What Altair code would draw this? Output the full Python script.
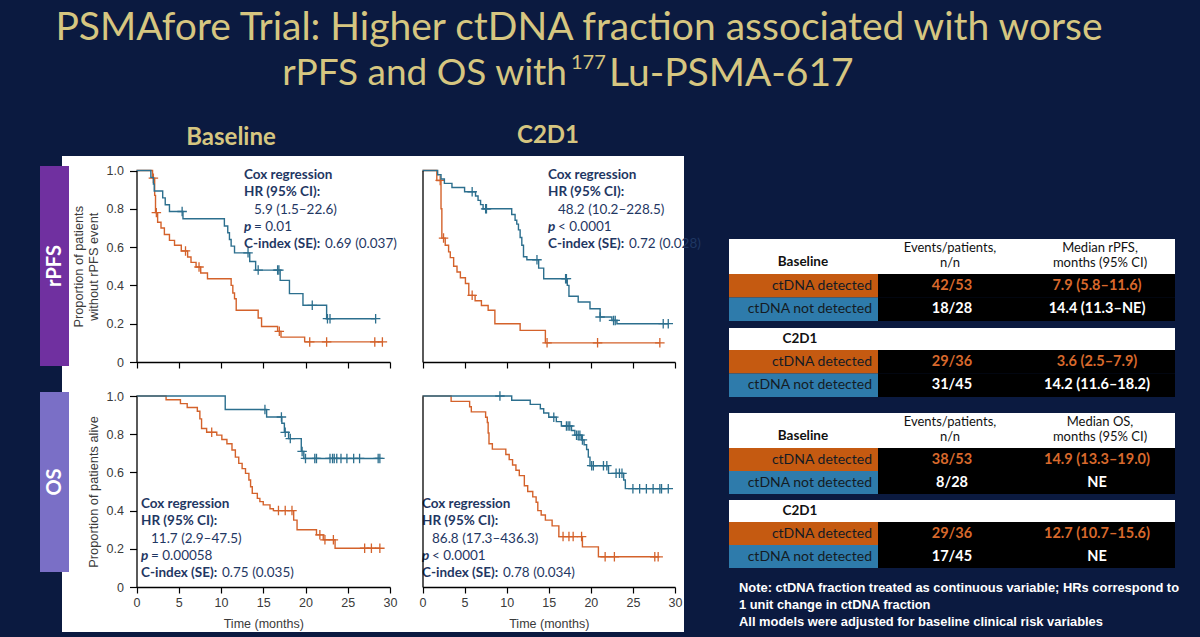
import altair as alt
import pandas as pd

W, H = 1200, 637
BG = "#0b1a40"
GOLD = "#d6c680"
ORANGE = "#d4622b"
BLUE = "#2c6f8e"
NAVY = "#1f3763"
CELL_ORANGE = "#c55a11"
CELL_BLUE = "#2e7bab"
RPFS_PURPLE = "#7030a0"
OS_PURPLE = "#7a6fc6"
AX_TXT = "#3a3a3a"
CAL = "Lato"
ARIAL = "Liberation Sans"

# ----------------------------- data -----------------------------
month_ticks = [0, 5, 10, 15, 20, 25, 30]
prop_ticks = [0, 0.2, 0.4, 0.6, 0.8, 1.0]

# Baseline rPFS
bl_rpfs_det_time = [1.9, 2.15, 2.25, 2.5, 2.9, 3.3, 3.9, 4.5, 5.3, 6.05, 6.45, 7.05, 7.6, 8.4,
                    11.2, 11.4, 11.6, 11.8, 14.4, 14.8, 16.7, 17.1, 19.9]
bl_rpfs_det_surv = [0.96, 0.87, 0.78, 0.73, 0.70, 0.666, 0.635, 0.61, 0.58, 0.548, 0.52, 0.496, 0.465, 0.435,
                    0.40, 0.36, 0.33, 0.27, 0.23, 0.185, 0.16, 0.13, 0.105]
bl_rpfs_det_cens = [2.0, 2.35, 5.8, 7.4, 16.9, 20.5, 22.5, 28.2, 29.1]

bl_rpfs_nd_time = [1.7, 2.0, 2.1, 3.1, 3.4, 3.9, 5.5, 10.4, 10.8, 11.0, 11.2, 11.6, 13.4, 14.1,
                   17.0, 18.1, 19.7, 22.5]
bl_rpfs_nd_surv = [0.964, 0.929, 0.893, 0.857, 0.821, 0.786, 0.748, 0.71, 0.675, 0.64, 0.605, 0.57, 0.525, 0.48,
                   0.426, 0.357, 0.296, 0.226]
bl_rpfs_nd_cens = [5.4, 13.2, 14.4, 16.7, 16.85, 20.8, 22.6, 22.9, 28.3]

# C2D1 rPFS
c2_rpfs_det_time = [1.7, 2.2, 2.3, 2.7, 3.1, 3.3, 3.7, 4.1, 4.5, 5.1, 5.5, 6.25, 7.0, 7.8, 8.6, 11.6, 14.6]
c2_rpfs_det_surv = [0.948, 0.80, 0.647, 0.61, 0.575, 0.545, 0.50, 0.47, 0.44, 0.41, 0.348, 0.32, 0.295, 0.27,
                    0.20, 0.165, 0.10]
c2_rpfs_det_cens = [2.1, 2.5, 5.9, 14.8, 20.8, 28.2]

c2_rpfs_nd_time = [1.8, 2.2, 2.6, 3.5, 5.0, 6.3, 6.6, 6.9, 7.2, 10.6, 11.0, 11.2, 11.4, 11.6, 11.8, 12.0, 12.4,
                   13.8, 14.4, 17.2, 17.4, 18.5, 19.9, 21.1, 22.5, 23.1]
c2_rpfs_nd_surv = [0.978, 0.956, 0.933, 0.911, 0.889, 0.867, 0.844, 0.822, 0.80, 0.77, 0.74, 0.72, 0.69, 0.65,
                   0.61, 0.55, 0.534, 0.49, 0.435, 0.40, 0.343, 0.313, 0.278, 0.235, 0.217, 0.20]
c2_rpfs_nd_cens = [5.9, 7.5, 7.6, 13.6, 17.0, 17.1, 21.1, 22.7, 22.9, 28.6, 29.2]

# Baseline OS
bl_os_det_time = [3.5, 5.2, 6.0, 7.2, 7.5, 7.7, 8.3, 9.5, 10.1, 10.7, 11.3, 11.7, 12.1, 12.5, 12.9, 13.3, 13.5,
                  13.7, 14.3, 14.6, 15.0, 15.8, 16.2, 18.6, 19.0, 21.3, 22.1, 23.5]
bl_os_det_surv = [0.98, 0.96, 0.94, 0.92, 0.88, 0.83, 0.81, 0.795, 0.772, 0.75, 0.717, 0.68, 0.647, 0.62, 0.595,
                  0.56, 0.525, 0.49, 0.464, 0.447, 0.43, 0.41, 0.40, 0.35, 0.30, 0.273, 0.247, 0.203]
bl_os_det_cens = [8.9, 16.8, 17.6, 18.4, 21.7, 22.3, 23.3, 27.0, 27.8, 28.8]

bl_os_nd_time = [10.5, 15.4, 17.2, 17.5, 18.0, 19.5, 19.8]
bl_os_nd_surv = [0.929, 0.89, 0.857, 0.81, 0.777, 0.71, 0.673]
bl_os_nd_cens = [15.2, 17.15, 17.6, 18.2, 19.6, 20.0, 21.1, 21.3, 22.9, 23.2, 23.4, 23.7, 24.2, 24.9, 25.7,
                 26.4, 28.6, 28.8]

# C2D1 OS
c2_os_det_time = [3.4, 5.6, 5.8, 7.5, 7.7, 7.8, 7.9, 8.3, 9.9, 10.3, 10.7, 11.1, 11.5, 12.1, 12.5, 13.1, 13.5,
                  13.7, 14.1, 14.6, 15.4, 16.2, 19.0, 20.9]
c2_os_det_surv = [0.972, 0.944, 0.917, 0.889, 0.861, 0.806, 0.75, 0.722, 0.694, 0.667, 0.639, 0.611, 0.583, 0.53,
                  0.50, 0.472, 0.444, 0.40, 0.377, 0.35, 0.32, 0.264, 0.21, 0.158]
c2_os_det_cens = [16.7, 17.4, 17.9, 18.9, 21.7, 22.8, 27.6, 28.0]

c2_os_nd_time = [10.6, 12.8, 14.0, 14.4, 15.0, 15.9, 16.5, 17.7, 18.1, 18.9, 19.2, 19.5, 19.7, 19.9, 22.1, 23.9,
                 24.1]
c2_os_nd_surv = [0.978, 0.956, 0.933, 0.911, 0.889, 0.866, 0.843, 0.819, 0.795, 0.77, 0.745, 0.72, 0.68, 0.635,
                 0.595, 0.56, 0.515]
c2_os_nd_cens = [9.2, 15.6, 17.1, 17.3, 17.5, 18.3, 18.5, 18.7, 19.0, 20.1, 20.3, 21.5, 21.9, 23.0, 23.4, 23.7,
                 25.0, 25.8, 26.6, 27.4, 28.2, 28.4, 29.2]

# Tables
row_labels = ["ctDNA detected", "ctDNA not detected", "ctDNA detected", "ctDNA not detected"]
rpfs_events = ["42/53", "18/28", "29/36", "31/45"]
rpfs_median = ["7.9 (5.8–11.6)", "14.4 (11.3–NE)", "3.6 (2.5–7.9)", "14.2 (11.6–18.2)"]
os_events = ["38/53", "8/28", "29/36", "17/45"]
os_median = ["14.9 (13.3–19.0)", "NE", "12.7 (10.7–15.6)", "NE"]

# ----------------------------- helpers -----------------------------
def cx():
    return alt.X("x:Q", scale=alt.Scale(domain=[0, W], range=[0, W], nice=False, zero=False), axis=None)


def cy():
    return alt.Y("y:Q", scale=alt.Scale(domain=[0, H], range=[0, H], nice=False, zero=False), axis=None)


def text_layer(rows, color, size, weight="normal", font=CAL, align="left", style="normal", angle=0):
    df = pd.DataFrame(rows, columns=["x", "y", "label"])
    kw = dict(align=align, baseline="middle", font=font, fontSize=size, fontWeight=weight,
              color=color, fontStyle=style)
    if angle:
        kw["angle"] = angle
    return alt.Chart(df).mark_text(**kw).encode(x=cx(), y=cy(), text="label:N")


def rect_layer(rows):
    df = pd.DataFrame(rows, columns=["x", "y", "x2", "y2", "fill"])
    return alt.Chart(df).mark_rect().encode(
        x=cx(), y=cy(), x2="x2:Q", y2="y2:Q", color=alt.Color("fill:N", scale=None))


def km_frames(times, surv, cens):
    end = max(cens + times)
    line = pd.DataFrame({"t": [0] + times + [end], "s": [1.0] + surv + [surv[-1]]})

    def level(x):
        v = 1.0
        for ti, si in zip(times, surv):
            if ti <= x:
                v = si
        return v

    cdf = pd.DataFrame({"t": cens, "s": [level(c) for c in cens]})
    return line, cdf


PLUS = "M0,-1L0,1M-1,0L1,0"


def km_panel(x0, x1, yb, yt, curves, xlabels, ylabels, ytitle):
    xs = alt.Scale(domain=[0, 30], range=[x0, x1], nice=False, zero=False)
    ys = alt.Scale(domain=[0, 1], range=[yb, yt], nice=False, zero=False)
    xkw = dict(orient="bottom", offset=yb - H, values=month_ticks, grid=False, domainColor="#000",
               domainWidth=1.3, tickColor="#000", tickWidth=1.2, tickSize=6, labels=xlabels,
               labelFlush=False, labelOverlap=False, labelFont=ARIAL, labelFontSize=12.5,
               labelColor=AX_TXT, labelPadding=3, titleFont=ARIAL, titleFontSize=12.5,
               titleFontWeight="normal", titleColor=AX_TXT, titlePadding=9, zindex=2)
    ykw = dict(orient="left", offset=-x0, values=prop_ticks, grid=False, domainColor="#000",
               domainWidth=1.3, tickColor="#000", tickWidth=1.2, tickSize=7, labelFlush=False,
               labels=ylabels, ticks=ylabels,
               labelOverlap=False, labelFont=ARIAL, labelFontSize=12.5, labelColor=AX_TXT,
               labelPadding=6, labelExpr="datum.value == 0 ? '0' : format(datum.value, '.1f')",
               titleFont=ARIAL, titleFontSize=12.8, titleFontWeight="normal", titleColor=AX_TXT,
               titlePadding=6, titleLineHeight=15, zindex=2)
    layers = []
    for i, (times, surv, cens, color) in enumerate(curves):
        line_df, cens_df = km_frames(times, surv, cens)
        if i == 0:
            xe = alt.X("t:Q", scale=xs, axis=alt.Axis(**xkw),
                       title="Time (months)" if xlabels else None)
            ye = alt.Y("s:Q", scale=ys, axis=alt.Axis(**ykw), title=ytitle)
        else:
            xe = alt.X("t:Q", scale=xs, axis=None)
            ye = alt.Y("s:Q", scale=ys, axis=None)
        layers.append(alt.Chart(line_df).mark_line(interpolate="step-after", color=color,
                                                   strokeWidth=1.4).encode(x=xe, y=ye))
        layers.append(alt.Chart(cens_df).mark_point(shape=PLUS, filled=False, color=color, size=90,
                                                    strokeWidth=1.3, opacity=1).encode(
            x=alt.X("t:Q", scale=xs, axis=None), y=alt.Y("s:Q", scale=ys, axis=None)))
    return layers


def cox_layers(x, y, hr, p, cidx, p_op):
    lh = 17.3
    fs = 13.5
    return [
        text_layer([(x, y, "Cox regression"), (x, y + lh, "HR (95% CI):"),
                    (x, y + 4 * lh, "C-index (SE):")], NAVY, fs, weight="bold"),
        text_layer([(x, y + 3 * lh, "p")], NAVY, fs, weight="bold", style="italic"),
        text_layer([(x + 10, y + 2 * lh, hr), (x + 10, y + 3 * lh, p_op + " " + p),
                    (x + 81, y + 4 * lh, cidx)], NAVY, fs),
    ]


def table_layers(top, row_h, gap, sub_h, endpoint, events, medians):
    x0, xm, x1 = 729, 878, 1175
    hdr_h = 35
    layers = []
    rects = [(x0, top, x1, top + hdr_h, "#ffffff")]
    r1 = top + hdr_h
    rows_y = [r1, r1 + row_h]
    sub_top = r1 + 2 * row_h + gap
    rects.append((x0, sub_top, x1, sub_top + sub_h, "#ffffff"))
    r3 = sub_top + sub_h
    rows_y += [r3, r3 + row_h]
    for k, ry in enumerate(rows_y):
        rects.append((x0, ry, xm, ry + row_h, CELL_ORANGE if k % 2 == 0 else CELL_BLUE))
        rects.append((xm, ry, x1, ry + row_h, "#000000"))
    layers.append(rect_layer(rects))
    layers.append(text_layer([(803, top + 23, "Baseline"), (800, sub_top + sub_h / 2, "C2D1")],
                             "#111111", 13.5, weight="bold", align="center"))
    layers.append(text_layer([(950, top + 9, "Events/patients,"), (950, top + 24, "n/n"),
                              (1100, top + 9, "Median " + endpoint + ","),
                              (1100, top + 24, "months (95% CI)")], "#111111", 13, align="center"))
    layers.append(text_layer([(872, ry + row_h / 2, row_labels[k]) for k, ry in enumerate(rows_y)],
                             "#141b24", 14, align="right"))
    det = [k for k in range(4) if k % 2 == 0]
    nd = [k for k in range(4) if k % 2 == 1]
    layers.append(text_layer([(952, rows_y[k] + row_h / 2, events[k]) for k in det] +
                             [(1097, rows_y[k] + row_h / 2, medians[k]) for k in det],
                             "#d8692c", 14.5, weight="bold", align="center"))
    layers.append(text_layer([(952, rows_y[k] + row_h / 2, events[k]) for k in nd] +
                             [(1097, rows_y[k] + row_h / 2, medians[k]) for k in nd],
                             "#ffffff", 14.5, weight="bold", align="center"))
    return layers


# ----------------------------- build -----------------------------
layers = []
layers.append(rect_layer([(62, 156, 684, 632, "#ffffff"),
                          (40, 166, 69, 366, RPFS_PURPLE),
                          (40, 392, 69, 572, OS_PURPLE)]))
layers.append(text_layer([(55, 266, "rPFS"), (55, 482, "OS")], "#ffffff", 20, weight="bold",
                         align="center", angle=270))

# Title
layers.append(text_layer([(579, 28, "PSMAfore Trial: Higher ctDNA fraction  associated with worse")],
                         GOLD, 39, align="center"))
layers.append(text_layer([(567, 74, "rPFS and OS with")], GOLD, 37, align="right"))
layers.append(text_layer([(571, 63, "177")], GOLD, 20))
layers.append(text_layer([(609, 74, "Lu-PSMA-617")], GOLD, 39))
layers.append(text_layer([(231, 138, "Baseline"), (548, 136, "C2D1")], GOLD, 24, weight="bold",
                         align="center"))

# KM panels
layers += km_panel(136.5, 390, 362, 170.5,
                   [(bl_rpfs_det_time, bl_rpfs_det_surv, bl_rpfs_det_cens, ORANGE),
                    (bl_rpfs_nd_time, bl_rpfs_nd_surv, bl_rpfs_nd_cens, BLUE)],
                   False, True, ["Proportion of patients", "without rPFS event"])
layers += km_panel(422.5, 675, 362, 170.5,
                   [(c2_rpfs_det_time, c2_rpfs_det_surv, c2_rpfs_det_cens, ORANGE),
                    (c2_rpfs_nd_time, c2_rpfs_nd_surv, c2_rpfs_nd_cens, BLUE)],
                   False, False, None)
layers += km_panel(136.5, 390, 587, 396,
                   [(bl_os_det_time, bl_os_det_surv, bl_os_det_cens, ORANGE),
                    (bl_os_nd_time, bl_os_nd_surv, bl_os_nd_cens, BLUE)],
                   True, True, "Proportion of patients alive")
layers += km_panel(422.5, 675, 587, 396,
                   [(c2_os_det_time, c2_os_det_surv, c2_os_det_cens, ORANGE),
                    (c2_os_nd_time, c2_os_nd_surv, c2_os_nd_cens, BLUE)],
                   True, False, None)

layers += cox_layers(244, 175, "5.9 (1.5–22.6)", "0.01", "0.69 (0.037)", "=")
layers += cox_layers(548, 175, "48.2 (10.2–228.5)", "0.0001", "0.72 (0.028)", "<")
layers += cox_layers(141, 504, "11.7 (2.9–47.5)", "0.00058", "0.75 (0.035)", "=")
layers += cox_layers(422, 504, "86.8 (17.3–436.3)", "0.0001", "0.78 (0.034)", "<")

# Tables
layers += table_layers(239, 23.5, 7, 22, "rPFS", rpfs_events, rpfs_median)
layers += table_layers(413, 23, 6, 22, "OS", os_events, os_median)

layers.append(text_layer([(739, 588, "Note: ctDNA fraction treated as continuous variable; HRs correspond to"),
                          (739, 605, "1 unit change in ctDNA fraction"),
                          (739, 622, "All models were adjusted for baseline clinical risk variables")],
                         "#ffffff", 12.9, weight="bold", font=ARIAL))

chart = alt.layer(*layers).resolve_scale(x="independent", y="independent").properties(
    width=W, height=H, background=BG, padding=0, autosize="none"
).configure_view(strokeOpacity=0)

chart.save("out.html", embed_options={"renderer": "svg", "actions": False})
